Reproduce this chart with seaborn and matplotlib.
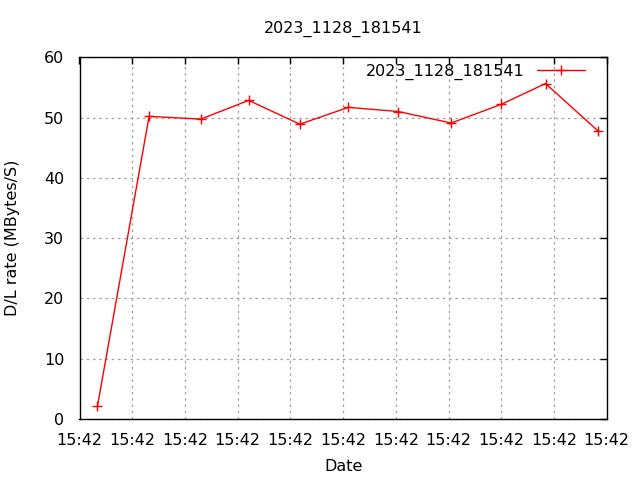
import pandas as pd
import matplotlib
matplotlib.use("Agg")
import matplotlib.pyplot as plt
import matplotlib.dates as mdates
import seaborn as sns

# run 2023_1128_181541, sample times (seconds after 15:42:00) and rates
run_name = "2023_1128_181541"
seconds = [1.7, 6.6, 11.5, 16.05, 20.9, 25.5, 30.25, 35.25, 40.0, 44.2, 49.2]
rate = [2.1, 50.2, 49.75, 52.85, 48.9, 51.7, 51.0, 49.1, 52.2, 55.65, 47.75]

start = pd.Timestamp("2023-11-28 15:42:00")
df = pd.DataFrame({
    "Date": [start + pd.Timedelta(seconds=s) for s in seconds],
    "rate": rate,
})

sns.set_style("white")
plt.rcParams["font.family"] = ["DejaVu Sans"]
plt.rcParams["text.color"] = "black"
plt.rcParams["axes.labelcolor"] = "black"

fig, ax = plt.subplots(figsize=(6.4, 4.8), dpi=100)
fig.subplots_adjust(left=79.5/640, right=606.7/640, top=1-57.3/480, bottom=1-419/480)

sns.lineplot(data=df, x="Date", y="rate", ax=ax, color="red", linewidth=1,
             marker="+", markersize=7, markeredgewidth=1, markeredgecolor="red",
             label=run_name)

ax.set_xlim(start, start + pd.Timedelta(seconds=50))
ax.set_ylim(0, 60)
ax.set_yticks(range(0, 61, 10))
ax.xaxis.set_major_locator(mdates.SecondLocator(bysecond=range(0, 60, 5)))
ax.xaxis.set_major_formatter(mdates.DateFormatter("%H:%M"))

ax.grid(True, color="#a0a0a0", linestyle=(0, (2, 3)), linewidth=0.9)
ax.tick_params(direction="in", top=True, right=True, length=5, width=1,
               labelsize=11.5, colors="black")
ax.tick_params(axis="x", pad=10)
ax.tick_params(axis="y", pad=11)
for s in ax.spines.values():
    s.set_color("black")
    s.set_linewidth(1)

ax.set_xlabel("Date", fontsize=11.5, labelpad=8)
ax.set_ylabel("D/L rate (MBytes/S)", fontsize=11.5, labelpad=17)
ax.set_title(run_name, fontsize=11.5, pad=18, color="black")

leg = ax.legend(loc="upper right", frameon=False, markerfirst=False, fontsize=11.5,
                handlelength=3, borderaxespad=0.2, handletextpad=0.8,
                bbox_to_anchor=(1 - 12/527, 1 + 3/362))
for t in leg.get_texts():
    t.set_color("black")

fig.savefig("out.png", dpi=100)
